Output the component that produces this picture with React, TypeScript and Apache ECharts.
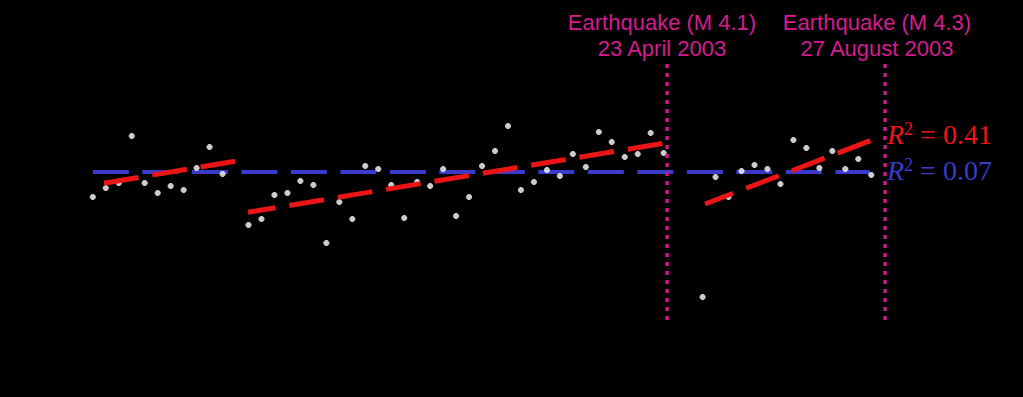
import React, { useEffect, useRef } from "react";
import * as echarts from "echarts";

// Observation weeks (week index) and measured values
const obsWeeks = [
  0, 1, 2, 3, 4, 5, 6, 7, 8, 9, 10,
  12, 13, 14, 15, 16, 17, 18, 19, 20, 21, 22, 23, 24, 25, 26, 27, 28, 29, 30, 31, 32, 33, 34, 35, 36, 37, 38, 39, 40, 41, 42, 43, 44,
  47, 48, 49, 50, 51, 52, 53, 54, 55, 56, 57, 58, 59, 60,
];
const obsValues = [
  19.3, 20.2, 20.7, 25.4, 20.7, 19.7, 20.4, 20.0, 22.2, 24.3, 21.6,
  16.5, 17.1, 19.5, 19.7, 20.9, 20.5, 14.7, 18.8, 17.1, 22.4, 22.1, 20.5, 17.2, 20.8, 20.4, 22.1, 17.4, 19.3, 22.4, 23.9, 26.4, 20.0, 20.8, 22.0, 21.4, 23.6, 22.3, 25.8, 24.8, 23.3, 23.6, 25.7, 23.7,
  9.3, 21.3, 19.3, 21.9, 22.5, 22.1, 20.6, 25.0, 24.2, 22.2, 23.9, 22.1, 23.1, 21.5,
];

// Trend lines (segment fits)
const trend1Weeks = [0.86, 11.19];
const trend1Values = [20.67, 22.93];
const trend2Weeks = [11.96, 44.26];
const trend2Values = [17.77, 24.73];
const trend3Weeks = [47.19, 60.06];
const trend3Values = [18.6, 25.0];

// Overall fit (flat)
const meanWeeks = [0, 59.9];
const meanValues = [21.8, 21.8];

// Earthquakes
const quakeWeeks = [44.26, 61.06];
const quakeSpan = [7.0, 32.6];
const quakeTitles = ["Earthquake (M 4.1)", "Earthquake (M 4.3)"];
const quakeDates = ["23 April 2003", "27 August 2003"];
const r2Labels = ["0.41", "0.07"];

const pair = (ws: number[], vs: number[]) => ws.map((w, i) => [w, vs[i]]);

const RED = "#ec1515";
const BLUE = "#3a3acb";
const MAGENTA = "#d41c90";
const SERIF = '"Liberation Serif", "Times New Roman", serif';
const SANS = '"Liberation Sans", Arial, sans-serif';

const labelText = (x: number, y: number, text: string) => ({
  type: "text",
  x,
  y,
  style: {
    text,
    fill: MAGENTA,
    fontSize: 22,
    fontFamily: SANS,
    align: "center",
    verticalAlign: "middle",
    textAlign: "center",
    textVerticalAlign: "middle",
  },
});

const r2Text = (y: number, value: string, color: string) => ({
  type: "text",
  x: 887,
  y,
  style: {
    text: "{i|R}{s|2}{n| = " + value + "}",
    fill: color,
    align: "left",
    verticalAlign: "middle",
    rich: {
      i: { fontStyle: "italic", fontSize: 28, fontFamily: SERIF, fill: color, verticalAlign: "bottom" },
      s: { fontSize: 18, fontFamily: SERIF, fill: color, verticalAlign: "top" },
      n: { fontSize: 28, fontFamily: SERIF, fill: color, verticalAlign: "bottom" },
    },
  },
});

export default function App() {
  const ref = useRef<HTMLDivElement>(null);
  useEffect(() => {
    const chart = echarts.init(ref.current!, undefined, { renderer: "svg" });
    const trendStyle = (offset: number) => ({
      color: RED,
      width: 5,
      type: [35, 14] as any,
      dashOffset: offset,
      cap: "butt",
    });
    const quakeSeries = quakeWeeks.map((w) => ({
      type: "line",
      data: quakeSpan.map((v) => [w, v]),
      symbol: "none",
      z: 5,
      lineStyle: { color: "#cc168a", width: 3.5, type: [4, 5] as any },
      silent: true,
    }));
    chart.setOption({
      animation: false,
      backgroundColor: "#000000",
      grid: { left: 2, right: 22, top: 0, bottom: 7 },
      xAxis: { type: "value", min: -7, max: 70, show: false },
      yAxis: { type: "value", min: 0, max: 39, show: false },
      series: [
        {
          type: "line",
          data: pair(meanWeeks, meanValues),
          symbol: "none",
          z: 1,
          lineStyle: { color: BLUE, width: 4, type: [36, 13.5] as any },
        },
        {
          type: "scatter",
          data: pair(obsWeeks, obsValues),
          symbol: "path://M2,0H4L6,2V4L4,6H2L0,4V2Z",
          symbolSize: 6,
          z: 2,
          itemStyle: { color: "#ffffff" },
        },
        {
          type: "line",
          data: pair(trend1Weeks, trend1Values),
          symbol: "none",
          z: 3,
          lineStyle: trendStyle(0),
        },
        {
          type: "line",
          data: pair(trend2Weeks, trend2Values),
          symbol: "none",
          z: 3,
          lineStyle: trendStyle(7),
        },
        {
          type: "line",
          data: pair(trend3Weeks, trend3Values),
          symbol: "none",
          z: 3,
          lineStyle: trendStyle(5),
        },
        ...quakeSeries,
      ],
      graphic: [
        labelText(662, 22.5, quakeTitles[0]),
        labelText(662, 48.5, quakeDates[0]),
        labelText(877, 22.5, quakeTitles[1]),
        labelText(877, 48.5, quakeDates[1]),
        r2Text(134, r2Labels[0], RED),
        r2Text(170, r2Labels[1], BLUE),
      ],
    });
    return () => chart.dispose();
  }, []);
  return (
    <div
      ref={ref}
      style={{ position: "fixed", left: 0, top: 0, width: 1023, height: 397, background: "#000" }}
    />
  );
}
